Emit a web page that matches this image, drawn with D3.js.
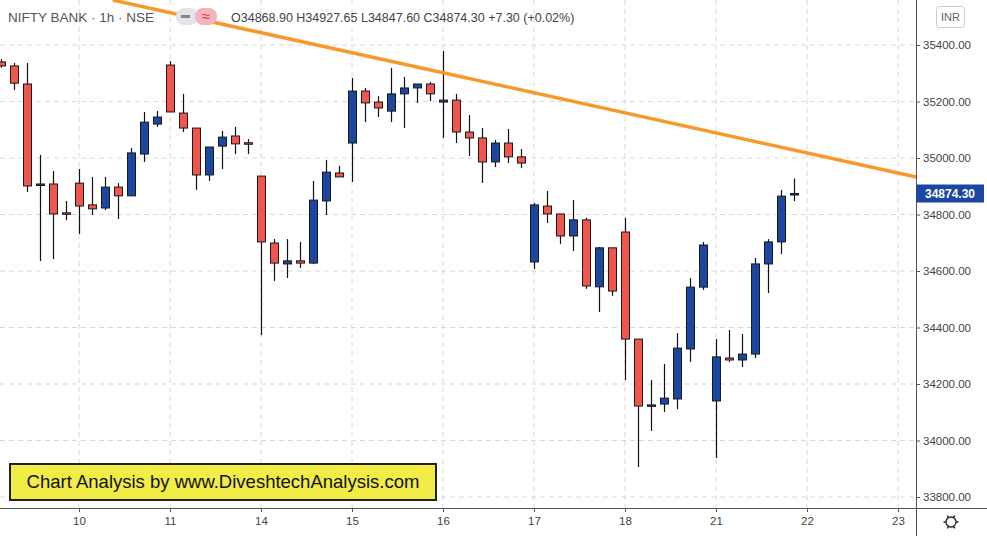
<!DOCTYPE html>
<html><head><meta charset="utf-8">
<script src="https://cdn.jsdelivr.net/npm/d3@7"></script>
<style>body{margin:0;background:#fff;font-family:"Liberation Sans",Arial,sans-serif}</style>
</head><body><svg id="c" width="987" height="536"></svg>
<script>
const startIndex = -6;
const opens  = [35340,35326,35262,34908,34908,34806, 34911,34834,34823,34897,34866,35014,35120, 35329,35159,35106,34940,35042,35078,35054, 34936,34699,34625,34636,34628,34848,34947, 35053,35237,35198,35166,35227,35248,35262, 35198,35205,35092,35071,34986,35053,35004, 34632,34830,34802,34724,34781,34544,34682, 34738,34359,34126,34129,34147,34324,34543, 34140,34292,34285,34306,34625,34703,34868.90];
const highs  = [35350,35336,35336,35011,34954,34848, 34961,34933,34933,34911,35035,35163,35166, 35343,35227,35106,35039,35096,35110,35067, 34936,34713,34713,34703,34919,34993,34972, 35283,35248,35219,35319,35287,35262,35269, 35379,35227,35152,35106,35064,35103,35032, 34841,34883,34802,34851,34788,34685,34682, 34788,34359,34214,34271,34380,34575,34703, 34359,34391,34377,34646,34713,34887,34927.65];
const lows   = [35320,35241,34880,34635,34642,34780, 34731,34798,34816,34784,34866,34986,35110, 35163,35092,34887,34919,34961,35014,35014, 34373,34565,34575,34611,34625,34798,34933, 34915,35127,35145,35127,35106,35195,35201, 35071,35053,35007,34912,34968,34982,34965, 34607,34770,34696,34671,34537,34455,34512, 34214,33906,34034,34101,34111,34278,34533, 33938,34278,34260,34292,34522,34660,34847.60];
const closes = [35326,35265,34901,34908,34802,34803, 34830,34820,34897,34866,35018,35127,35145, 35163,35106,34940,35039,35074,35050,35053, 34703,34628,34636,34628,34851,34950,34933, 35237,35195,35177,35227,35248,35262,35227, 35205,35092,35071,34986,35053,35004,34982, 34834,34802,34724,34781,34547,34682,34529, 34359,34122,34126,34150,34327,34543,34692, 34296,34285,34306,34625,34703,34865,34874.30];
const dayLabels = ["10","11","14","15","16","17","18","21","22","23"];
const dayStartIndex = [0,7,14,21,28,35,42,49,56,63];
const priceTicks = [33800,34000,34200,34400,34600,34800,35000,35200,35400];
const trendIdx = [2.6, 64.4];
const trendPrice = [35559, 34933];
const lastPrice = 34874.30;

const svg = d3.select("#c");
const W=987,H=536,R=916,B=508;
const x = d3.scaleLinear().domain([0,63]).range([79,898]);
const y = d3.scaleLinear().domain([33800,35400]).range([497,45]);

const g = svg.append("g");
// grid
g.selectAll(".hg").data(priceTicks.concat([35600])).join("line")
 .attr("x1",0).attr("x2",R).attr("y1",d=>y(d)).attr("y2",d=>y(d))
 .attr("stroke","#d8d8d8").attr("stroke-dasharray","5,4");
g.selectAll(".vg").data(dayStartIndex).join("line")
 .attr("x1",d=>x(d)).attr("x2",d=>x(d)).attr("y1",0).attr("y2",B)
 .attr("stroke","#d8d8d8").attr("stroke-dasharray","5,4");

// candles
const data = opens.map((o,k)=>({i:startIndex+k,o,h:highs[k],l:lows[k],c:closes[k]}));
const cg = g.append("g");
cg.selectAll(".w").data(data).join("line")
 .attr("x1",d=>Math.round(x(d.i))+0.5).attr("x2",d=>Math.round(x(d.i))+0.5)
 .attr("y1",d=>y(d.h)).attr("y2",d=>y(d.l)).attr("stroke","#111").attr("stroke-width",1.2);
cg.selectAll(".b").data(data).join("rect")
 .attr("x",d=>Math.round(x(d.i))-3.5).attr("width",8)
 .attr("y",d=>y(Math.max(d.o,d.c))).attr("height",d=>Math.max(1.5,Math.abs(y(d.o)-y(d.c))))
 .attr("fill",d=>d.c>=d.o?"#1c47a0":"#f0564e").attr("stroke","#1a1a1a").attr("stroke-width",1);

// trendline
svg.append("line").attr("x1",x(trendIdx[0])).attr("y1",y(trendPrice[0]))
 .attr("x2",x(trendIdx[1])).attr("y2",y(trendPrice[1]))
 .attr("stroke","#f7982b").attr("stroke-width",3.5);

// panes cover
svg.append("rect").attr("x",R).attr("y",0).attr("width",W-R).attr("height",H).attr("fill","#fff");
svg.append("rect").attr("x",0).attr("y",B).attr("width",W).attr("height",H-B).attr("fill","#fff");
svg.append("line").attr("x1",R+0.5).attr("x2",R+0.5).attr("y1",0).attr("y2",H).attr("stroke","#555");
svg.append("line").attr("x1",0).attr("x2",W).attr("y1",B+0.5).attr("y2",B+0.5).attr("stroke","#555");

// y axis
const ya = svg.append("g").attr("transform",`translate(${R},0)`)
 .call(d3.axisRight(y).tickValues(priceTicks).tickSize(4).tickFormat(d3.format(".2f")));
ya.select(".domain").remove();
ya.selectAll("line").attr("stroke","#555");
ya.selectAll("text").attr("fill","#444").attr("font-size",11.5).attr("font-family","Liberation Sans, Arial").attr("x",7);
// x axis
const xa = svg.append("g").attr("transform",`translate(0,${B})`)
 .call(d3.axisBottom(x).tickValues(dayStartIndex).tickSize(4).tickFormat((d,k)=>dayLabels[k]));
xa.select(".domain").remove();
xa.selectAll("line").attr("stroke","#555");
xa.selectAll("text").attr("fill","#444").attr("font-size",11.5).attr("font-family","Liberation Sans, Arial").attr("dy","0.9em");

// last price label
svg.append("rect").attr("x",R).attr("y",y(lastPrice)-9).attr("width",W-R-3).attr("height",18).attr("fill","#1c47a0");
svg.append("text").attr("x",R+34).attr("y",y(lastPrice)+4).attr("text-anchor","middle").attr("fill","#fff")
 .attr("font-size",12).attr("font-weight","bold").text(d3.format(".2f")(lastPrice));

// header
svg.append("text").attr("x",8).attr("y",22).attr("fill","#555").attr("font-size",13.5).text("NIFTY BANK · 1h · NSE");
svg.append("rect").attr("x",176).attr("y",8).attr("width",22).attr("height",17).attr("rx",8).attr("fill","#e3e5ea");
svg.append("rect").attr("x",181).attr("y",15).attr("width",9).attr("height",3).attr("fill","#888");
svg.append("rect").attr("x",195).attr("y",8).attr("width",22).attr("height",17).attr("rx",8).attr("fill","#f7b3bd");
svg.append("text").attr("x",206).attr("y",21).attr("text-anchor","middle").attr("fill","#d0304a").attr("font-size",14).text("≈");
svg.append("text").attr("x",231).attr("y",22).attr("fill","#444").attr("font-size",12.5)
 .text(`O${d3.format(".2f")(opens.at(-1))} H${d3.format(".2f")(highs.at(-1))} L${d3.format(".2f")(lows.at(-1))} C${d3.format(".2f")(closes.at(-1))} +7.30 (+0.02%)`);
svg.append("rect").attr("x",936.5).attr("y",6.5).attr("width",28).attr("height",21).attr("rx",3).attr("fill","#fff").attr("stroke","#ccc");
svg.append("text").attr("x",950.5).attr("y",21).attr("text-anchor","middle").attr("fill","#666").attr("font-size",11).text("INR");
// gear
svg.append("circle").attr("cx",951).attr("cy",522).attr("r",5).attr("fill","none").attr("stroke","#222").attr("stroke-width",1.3);
svg.append("g").selectAll("line").data(d3.range(6)).join("line")
 .attr("x1",d=>951+5*Math.cos(d*Math.PI/3)).attr("y1",d=>522+5*Math.sin(d*Math.PI/3))
 .attr("x2",d=>951+7.5*Math.cos(d*Math.PI/3)).attr("y2",d=>522+7.5*Math.sin(d*Math.PI/3))
 .attr("stroke","#222").attr("stroke-width",1.5);

// watermark
svg.append("rect").attr("x",10).attr("y",464).attr("width",426).attr("height",36).attr("fill","#f2ec46").attr("stroke","#222").attr("stroke-width",2);
svg.append("text").attr("x",223).attr("y",488).attr("text-anchor","middle").attr("fill","#111").attr("font-size",18.5)
 .attr("font-family","Liberation Sans, Arial").text("Chart Analysis by www.DiveshtechAnalysis.com");
</script></body></html>
